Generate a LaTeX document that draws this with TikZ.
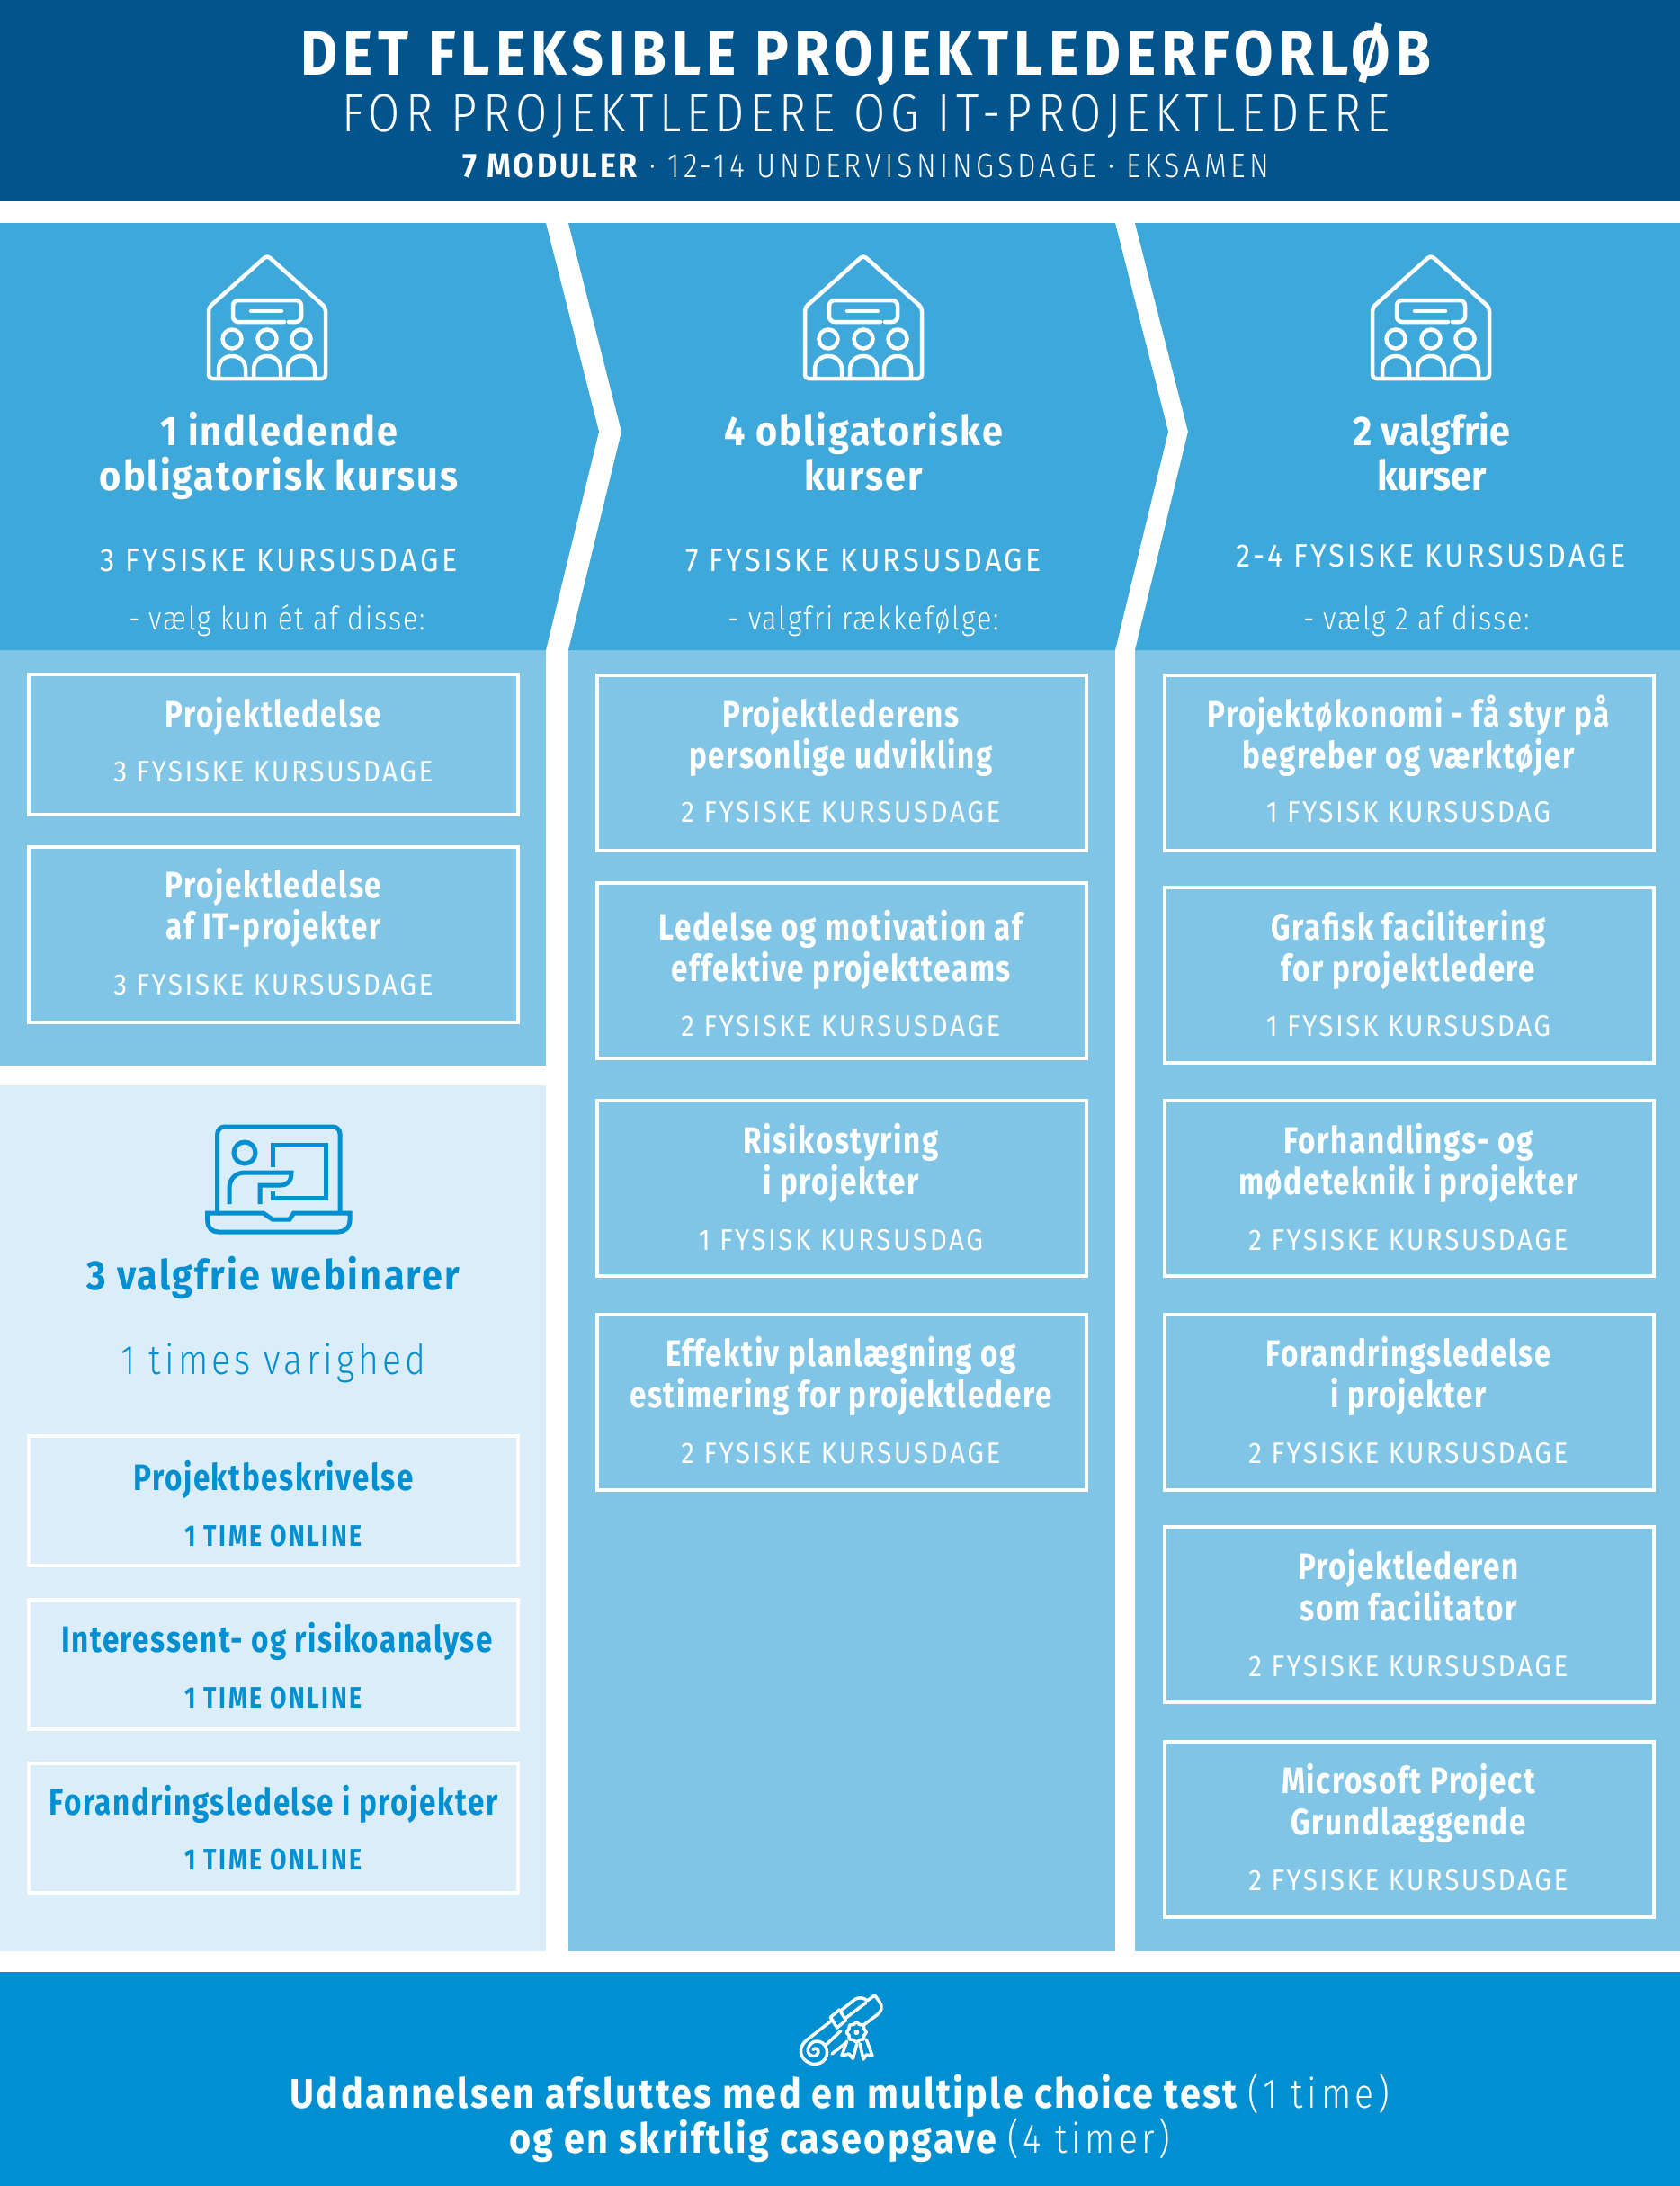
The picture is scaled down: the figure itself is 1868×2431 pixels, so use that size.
\documentclass[tikz,border=0pt]{standalone}
\usepackage{fontspec}
\usepackage{tikz}
\newfontfamily\fedfont{Fira Sans}[UprightFont=* Bold,BoldFont=* Bold,FakeStretch=0.90]
\newfontfamily\smalfont{Fira Sans}[UprightFont=* Bold,BoldFont=* Bold,FakeStretch=0.81]
\newfontfamily\midtfont{Fira Sans}[UprightFont=*,BoldFont=*,FakeStretch=0.90]
\newfontfamily\tyndfont{Fira Sans}[UprightFont=* Light,BoldFont=* Light,FakeStretch=0.85]
\definecolor{moerkblaa}{HTML}{02548C}
\definecolor{panelblaa}{HTML}{3EA8DB}
\definecolor{lysblaa}{HTML}{80C5E6}
\definecolor{blegblaa}{HTML}{DAEDF9}
\definecolor{bundblaa}{HTML}{0090D1}
\tikzset{
  tekst/.style={inner sep=0pt, anchor=base, align=center, text=white},
  overskrift/.style={tekst, font=\fedfont\addfontfeature{LetterSpace=4.4}\fontsize{23}{25}\selectfont},
  breddeskrift/.style={tekst, font=\fedfont\addfontfeature{LetterSpace=4.9}\fontsize{23}{25}\selectfont},
  dage/.style={tekst, font=\midtfont\addfontfeature{LetterSpace=9.3}\fontsize{18}{20}\selectfont},
  valg/.style={tekst, font=\tyndfont\addfontfeature{LetterSpace=5}\fontsize{18}{20}\selectfont},
  kursboks/.style={draw=white, line width=2pt, minimum width=272pt, inner sep=0pt},
  kursnavn/.style={tekst, yshift=-0.5pt, font=\smalfont\addfontfeature{LetterSpace=3.8}\fontsize{20.5}{23}\selectfont},
  kursdage/.style={tekst, yshift=-1pt, font=\midtfont\addfontfeature{LetterSpace=7.7}\fontsize{16.5}{17}\selectfont},
  webdage/.style={tekst, yshift=-0.5pt, text=bundblaa, font=\smalfont\addfontfeature{LetterSpace=7.5}\fontsize{16.5}{17}\selectfont},
  husikon/.pic={
    \draw [white, line width=2.25pt, line join=round, rounded corners=2pt] (-65,137) -- (-65,58) -- (0,0) -- (65,58) -- (65,137) -- cycle;
    \draw [white, line width=2.25pt, line cap=round, rounded corners=3pt] (19,74) -- (-38,74) -- (-38,50) -- (38,50) -- (38,74) -- (24,74);
    \draw [white, line width=2.25pt, line cap=round] (-18,62) -- (16,62);
    \draw [white, line width=2.25pt] (-39,93) circle [radius=5.25pt];
    \draw [white, line width=2.25pt] (0,93) circle [radius=5.25pt];
    \draw [white, line width=2.25pt] (38,93) circle [radius=5.25pt];
    \draw [white, line width=2.25pt] (-54,137) -- (-54,127) .. controls (-54,107) and (-24,107) .. (-24,127) -- (-24,137);
    \draw [white, line width=2.25pt] (-15,137) -- (-15,127) .. controls (-15,107) and (15,107) .. (15,127) -- (15,137);
    \draw [white, line width=2.25pt] (23,137) -- (23,127) .. controls (23,107) and (53,107) .. (53,127) -- (53,137);
  },
}
\begin{document}
\begin{tikzpicture}[x=0.5pt, y=-0.5pt]
  \useasboundingbox (0,0) rectangle (1868,2431);
  % baggrunde
  \fill [moerkblaa] (0,0) rectangle (1868,224);
  \fill [lysblaa] (0,723) rectangle (607,1185);
  \fill [blegblaa] (0,1207) rectangle (607,2170);
  \fill [lysblaa] (632,723) rectangle (1240,2170);
  \fill [lysblaa] (1262,723) rectangle (1868,2170);
  \fill [panelblaa] (0,248) -- (607,248) -- (666,480) -- (607,723) -- (0,723) -- cycle;
  \fill [panelblaa] (632,248) -- (1240,248) -- (1299,480) -- (1240,723) -- (632,723) -- (691,480) -- cycle;
  \fill [panelblaa] (1262,248) -- (1868,248) -- (1868,723) -- (1262,723) -- (1321,480) -- cycle;
  \fill [bundblaa] (0,2193) rectangle (1868,2431);
  % titel
  \node [tekst, font=\fedfont\addfontfeature{LetterSpace=8.7}\fontsize{35}{36}\selectfont] (titel) at (963,83) {DET FLEKSIBLE PROJEKTLEDERFORLØB};
  \node [tekst, font=\tyndfont\addfontfeature{LetterSpace=10.3}\fontsize{30}{31}\selectfont] (undertitel) at (963,146) {FOR PROJEKTLEDERE OG IT-PROJEKTLEDERE};
  \node [tekst, font=\tyndfont\addfontfeature{LetterSpace=11.5}\fontsize{19}{20}\selectfont] (omfang) at (963,197) {{\fedfont\addfontfeature{LetterSpace=7} 7 MODULER} · 12-14 UNDERVISNINGSDAGE · EKSAMEN};
  % kolonnehoveder
  \pic at (297,284) {husikon};
  \pic at (960,284) {husikon};
  \pic at (1591,284) {husikon};
  \node [overskrift] (h1) at (310,545) {1 indledende\\obligatorisk kursus};
  \node [dage] (d1) at (310,635) {3 FYSISKE KURSUSDAGE};
  \node [valg] (v1) at (308,700) {- vælg kun ét af disse:};
  \node [overskrift] (h2) at (960,545) {4 obligatoriske\\kurser};
  \node [dage] (d2) at (960,635) {7 FYSISKE KURSUSDAGE};
  \node [valg] (v2) at (960,700) {- valgfri rækkefølge:};
  \node [overskrift, font=\fedfont\fontsize{23}{25}\selectfont] (h3) at (1592,545) {2 valgfrie\\kurser};
  \node [dage] (d3) at (1591,630) {2-4 FYSISKE KURSUSDAGE};
  \node [valg] (v3) at (1575,700) {- vælg 2 af disse:};
  % kolonne 1
  \node [kursboks, minimum height=78pt] (b1) at (304,828) {};
  \node [kursnavn] (b1n) at (304,807) {Projektledelse};
  \node [kursdage] (b1d) at (304,867) {3 FYSISKE KURSUSDAGE};
  \node [kursboks, minimum height=97.5pt] (b2) at (304,1039.5) {};
  \node [kursnavn] (b2n) at (304,1043) {Projektledelse\\af IT-projekter};
  \node [kursdage] (b2d) at (304,1104) {3 FYSISKE KURSUSDAGE};
  % kolonne 2
  \node [kursboks, minimum height=97.5pt] (c1) at (935.5,848) {};
  \node [kursnavn] (c1n) at (935,853) {Projektlederens\\personlige udvikling};
  \node [kursdage] (c1d) at (935,912) {2 FYSISKE KURSUSDAGE};
  \node [kursboks, minimum height=97.5pt] (c2) at (935.5,1079) {};
  \node [kursnavn] (c2n) at (935,1090) {Ledelse og motivation af\\effektive projektteams};
  \node [kursdage] (c2d) at (935,1150) {2 FYSISKE KURSUSDAGE};
  \node [kursboks, minimum height=97.5pt] (c3) at (935.5,1321) {};
  \node [kursnavn] (c3n) at (935,1327) {Risikostyring\\i projekter};
  \node [kursdage] (c3d) at (935,1388) {1 FYSISK KURSUSDAG};
  \node [kursboks, minimum height=97.5pt] (c4) at (935.5,1559.5) {};
  \node [kursnavn] (c4n) at (935,1564) {Effektiv planlægning og\\estimering for projektledere};
  \node [kursdage] (c4d) at (935,1625) {2 FYSISKE KURSUSDAGE};
  % kolonne 3
  \node [kursboks, minimum height=97.5pt] (e1) at (1566.5,848) {};
  \node [kursnavn] (e1n) at (1566,853) {Projektøkonomi - få styr på\\begreber og værktøjer};
  \node [kursdage] (e1d) at (1566,912) {1 FYSISK KURSUSDAG};
  \node [kursboks, minimum height=97.5pt] (e2) at (1566.5,1084.5) {};
  \node [kursnavn] (e2n) at (1566,1090) {Grafisk facilitering\\for projektledere};
  \node [kursdage] (e2d) at (1566,1150) {1 FYSISK KURSUSDAG};
  \node [kursboks, minimum height=97.5pt] (e3) at (1566.5,1321) {};
  \node [kursnavn] (e3n) at (1566,1327) {Forhandlings- og\\mødeteknik i projekter};
  \node [kursdage] (e3d) at (1566,1388) {2 FYSISKE KURSUSDAGE};
  \node [kursboks, minimum height=97.5pt] (e4) at (1566.5,1559.5) {};
  \node [kursnavn] (e4n) at (1566,1564) {Forandringsledelse\\i projekter};
  \node [kursdage] (e4d) at (1566,1625) {2 FYSISKE KURSUSDAGE};
  \node [kursboks, minimum height=97.5pt] (e5) at (1566.5,1795.5) {};
  \node [kursnavn] (e5n) at (1566,1801) {Projektlederen\\som facilitator};
  \node [kursdage] (e5d) at (1566,1862) {2 FYSISKE KURSUSDAGE};
  \node [kursboks, minimum height=97.5pt] (e6) at (1566.5,2034.5) {};
  \node [kursnavn] (e6n) at (1566,2039) {Microsoft Project\\Grundlæggende};
  \node [kursdage] (e6d) at (1566,2100) {2 FYSISKE KURSUSDAGE};
  % webinarer
  \draw [bundblaa, line width=2.5pt, rounded corners=4pt] (241.7,1347) -- (241.7,1253) -- (378,1253) -- (378,1347);
  \draw [bundblaa, line width=2.5pt] (230.7,1349) -- (292.7,1349) -- (302.7,1356) -- (322,1356) -- (326.7,1349) -- (389,1349) -- (389,1357) .. controls (389,1366) and (382,1370) .. (376,1370) -- (243,1370) .. controls (236,1370) and (230.7,1366) .. (230.7,1357) -- cycle;
  \draw [bundblaa, line width=2.5pt] (272,1282) circle [radius=6pt];
  \draw [bundblaa, line width=2.5pt] (303,1298) -- (303,1273) -- (362,1273) -- (362,1332) -- (303,1332) -- (303,1325);
  \draw [bundblaa, line width=2.5pt] (255,1339) -- (255,1322) .. controls (255,1311) and (262,1304) .. (272,1304) -- (324,1304) .. controls (324,1313) and (320,1318) .. (312,1318) -- (289,1318) -- (289,1339);
  \node [breddeskrift, text=bundblaa] (wh) at (304,1434) {3 valgfrie webinarer};
  \node [tekst, text=bundblaa, font=\tyndfont\addfontfeature{LetterSpace=9}\fontsize{23}{24}\selectfont] (wt) at (304,1528) {1 times varighed};
  \node [kursboks, minimum height=72pt] (w1) at (304,1668.5) {};
  \node [kursnavn, text=bundblaa] (w1n) at (304,1656) {Projektbeskrivelse};
  \node [webdage] (w1d) at (304,1718) {1 TIME ONLINE};
  \node [kursboks, minimum height=72pt] (w2) at (304,1851) {};
  \node [kursnavn, text=bundblaa] (w2n) at (308,1836) {Interessent- og risikoanalyse};
  \node [webdage] (w2d) at (304,1898) {1 TIME ONLINE};
  \node [kursboks, minimum height=72pt] (w3) at (304,2033) {};
  \node [kursnavn, text=bundblaa] (w3n) at (304,2017) {Forandringsledelse i projekter};
  \node [webdage] (w3d) at (304,2078) {1 TIME ONLINE};
  % afslutning
  \begin{scope}[shift={(820,2180)}, scale=1/3, white, line width=1.75pt, line join=round, line cap=round]
    \draw (318,198) -- (232,265) .. controls (205,285) and (198,330) .. (250,346) .. controls (290,350) and (310,315) .. (292,285) .. controls (280,265) and (245,262) .. (235,295) .. controls (230,320) and (265,330) .. (270,305) .. controls (270,295) and (258,290) .. (252,298);
    \draw (292,285) -- (345,235);
    \draw (315,312) -- (362,275);
    \draw (310,190) -- (340,165) -- (362,200) -- (332,225) -- cycle;
    \draw (342,170) -- (392,130) .. controls (405,122) and (425,125) .. (432,135) -- (458,117) -- (475,140) .. controls (485,155) and (480,170) .. (468,180) -- (418,218);
    \draw (362,192) -- (428,142);
    \draw (365,270) -- (348,318) -- (372,312) -- (385,328) -- (398,280);
    \draw (408,278) -- (420,330) -- (430,315) -- (450,318) -- (430,265);
    \draw [fill=bundblaa] plot [smooth cycle, samples=32, domain=0:348.75] ({397+(30+3*cos(8*\x))*cos(\x)},{240+(30+3*cos(8*\x))*sin(\x)});
    \draw (397,240) circle [radius=2.4pt];
  \end{scope}
  \node [breddeskrift] (slut) at (934,2394) {Uddannelsen afsluttes med en multiple choice test {\tyndfont\addfontfeature{LetterSpace=10} (1 time)}\\og en skriftlig caseopgave {\tyndfont\addfontfeature{LetterSpace=10} (4 timer)}};
\end{tikzpicture}
\end{document}
